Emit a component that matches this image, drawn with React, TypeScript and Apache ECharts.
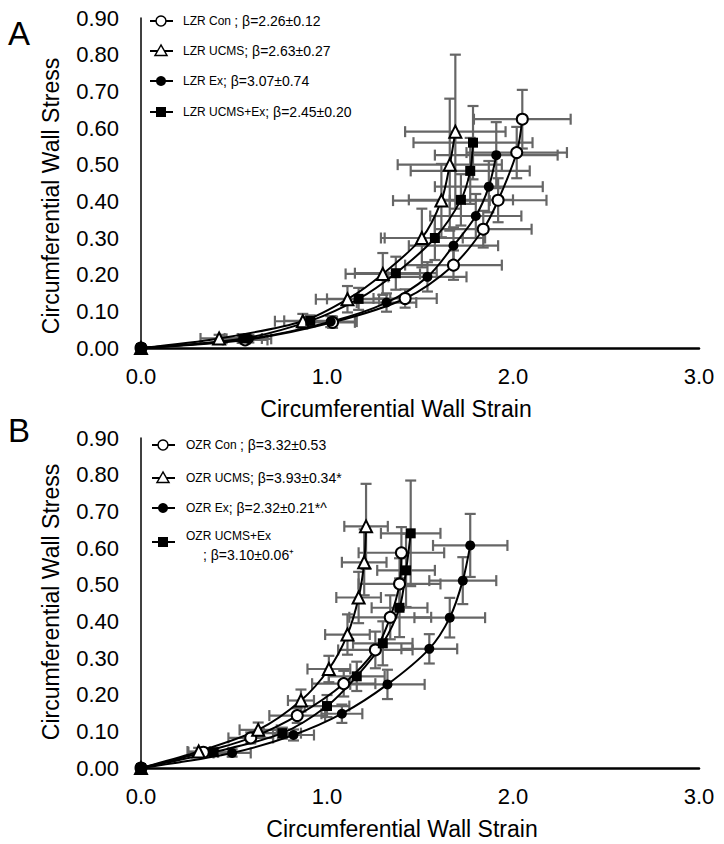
import React, { useEffect, useRef } from "react";
import * as echarts from "echarts";

// ---------- Panel A (LZR) ----------
const lzrConStrain = [0, 0.56, 1.03, 1.42, 1.68, 1.84, 1.92, 2.02, 2.05];
const lzrConStress = [0, 0.022, 0.07, 0.135, 0.226, 0.324, 0.403, 0.533, 0.624];
const lzrConStrainErr = [0, 0.12, 0.12, 0.17, 0.26, 0.26, 0.26, 0.27, 0.26];
const lzrConStressErr = [0, 0.01, 0.015, 0.025, 0.04, 0.05, 0.06, 0.07, 0.08];

const lzrUcmsStrain = [0, 0.42, 0.87, 1.11, 1.3, 1.51, 1.615, 1.66, 1.69];
const lzrUcmsStress = [0, 0.026, 0.073, 0.133, 0.202, 0.3, 0.402, 0.5, 0.59];
const lzrUcmsStrainErr = [0, 0.1, 0.15, 0.17, 0.2, 0.22, 0.26, 0.28, 0.27];
const lzrUcmsStressErr = [0, 0.01, 0.02, 0.036, 0.057, 0.08, 0.1, 0.18, 0.21];

const lzrExStrain = [0, 0.58, 1.02, 1.32, 1.54, 1.68, 1.8, 1.87, 1.91];
const lzrExStress = [0, 0.025, 0.072, 0.124, 0.194, 0.279, 0.36, 0.44, 0.526];
const lzrExStrainErr = [0, 0.12, 0.14, 0.16, 0.21, 0.24, 0.245, 0.29, 0.33];
const lzrExStressErr = [0, 0.01, 0.015, 0.025, 0.04, 0.05, 0.06, 0.07, 0.09];

const lzrUcmsExStrain = [0, 0.55, 0.91, 1.17, 1.37, 1.58, 1.72, 1.77, 1.785];
const lzrUcmsExStress = [0, 0.026, 0.074, 0.134, 0.204, 0.3, 0.404, 0.483, 0.56];
const lzrUcmsExStrainErr = [0, 0.1, 0.14, 0.17, 0.22, 0.27, 0.28, 0.32, 0.32];
const lzrUcmsExStressErr = [0, 0.008, 0.015, 0.03, 0.045, 0.06, 0.07, 0.09, 0.1];

// ---------- Panel B (OZR) ----------
const ozrConStrain = [0, 0.335, 0.59, 0.84, 1.09, 1.26, 1.34, 1.39, 1.4];
const ozrConStress = [0, 0.043, 0.082, 0.143, 0.23, 0.322, 0.411, 0.502, 0.587];
const ozrConStrainErr = [0, 0.08, 0.12, 0.15, 0.17, 0.2, 0.22, 0.22, 0.23];
const ozrConStressErr = [0, 0.01, 0.015, 0.02, 0.035, 0.05, 0.06, 0.07, 0.07];

const ozrUcmsStrain = [0, 0.31, 0.63, 0.86, 1.01, 1.11, 1.17, 1.2, 1.21];
const ozrUcmsStress = [0, 0.045, 0.104, 0.184, 0.27, 0.364, 0.465, 0.561, 0.659];
const ozrUcmsStrainErr = [0, 0.06, 0.1, 0.07, 0.115, 0.12, 0.12, 0.12, 0.117];
const ozrUcmsStressErr = [0, 0.01, 0.02, 0.03, 0.036, 0.055, 0.07, 0.09, 0.116];

const ozrExStrain = [0, 0.49, 0.82, 1.08, 1.325, 1.55, 1.66, 1.73, 1.77];
const ozrExStress = [0, 0.041, 0.09, 0.148, 0.228, 0.325, 0.41, 0.511, 0.607];
const ozrExStrainErr = [0, 0.1, 0.11, 0.11, 0.2, 0.15, 0.19, 0.18, 0.2];
const ozrExStressErr = [0, 0.01, 0.015, 0.025, 0.04, 0.04, 0.054, 0.064, 0.086];

const ozrUcmsExStrain = [0, 0.39, 0.76, 1.0, 1.16, 1.3, 1.39, 1.425, 1.45];
const ozrUcmsExStress = [0, 0.043, 0.095, 0.169, 0.25, 0.34, 0.437, 0.539, 0.64];
const ozrUcmsExStrainErr = [0, 0.08, 0.1, 0.12, 0.15, 0.16, 0.15, 0.155, 0.16];
const ozrUcmsExStressErr = [0, 0.01, 0.015, 0.03, 0.04, 0.06, 0.08, 0.1, 0.144];

// ---------- Legend texts ----------
const legendGroupsA = ["LZR Con ", "LZR UCMS", "LZR Ex", "LZR UCMS+Ex"];
const legendBetasA = ["; β=2.26±0.12", "; β=2.63±0.27", "; β=3.07±0.74", "; β=2.45±0.20"];
const legendGroupsB = ["OZR Con ", "OZR UCMS", "OZR Ex", "OZR UCMS+Ex"];
const legendBetasB = ["; β=3.32±0.53", "; β=3.93±0.34*", "; β=2.32±0.21*^", "; β=3.10±0.06⁺"];

const xAxisTitle = "Circumferential Wall Strain";
const yAxisTitle = "Circumferential Wall Stress";
const panelLetters = ["A", "B"];

const FONT = "'Liberation Sans', Arial, Helvetica, sans-serif";

type Marker = "openCircle" | "openTriangle" | "filledCircle" | "filledSquare";
const markers: Marker[] = ["openCircle", "openTriangle", "filledCircle", "filledSquare"];

const markerSymbol: Record<Marker, { symbol: string; size: number; filled: boolean }> = {
  openCircle: { symbol: "circle", size: 11, filled: false },
  openTriangle: { symbol: "triangle", size: 12, filled: false },
  filledCircle: { symbol: "circle", size: 10, filled: true },
  filledSquare: { symbol: "rect", size: 10, filled: true },
};

function pairs(a: number[], b: number[]) {
  return a.map((v, i) => [v, b[i]]);
}
function quads(a: number[], b: number[], c: number[], d: number[]) {
  return a.map((v, i) => [v, b[i], c[i], d[i]]).filter((q) => q[2] > 0 || q[3] > 0);
}

const errorRender = (params: any, api: any) => {
  const x = api.value(0);
  const y = api.value(1);
  const ex = api.value(2);
  const ey = api.value(3);
  const l = api.coord([x - ex, y]);
  const r = api.coord([x + ex, y]);
  const t = api.coord([x, y + ey]);
  const b = api.coord([x, y - ey]);
  const c = 5.5;
  const style = { stroke: "#666666", lineWidth: 2.2, fill: null };
  const ln = (x1: number, y1: number, x2: number, y2: number) => ({
    type: "line",
    shape: { x1, y1, x2, y2 },
    style,
  });
  return {
    type: "group",
    children: [
      ln(l[0], l[1], r[0], r[1]),
      ln(l[0], l[1] - c, l[0], l[1] + c),
      ln(r[0], r[1] - c, r[0], r[1] + c),
      ln(t[0], t[1], b[0], b[1]),
      ln(t[0] - c, t[1], t[0] + c, t[1]),
      ln(b[0] - c, b[1], b[0] + c, b[1]),
    ],
  };
};

function buildSeries(
  idx: number,
  sets: { sx: number[]; sy: number[]; ex: number[]; ey: number[]; marker: Marker; name: string }[]
) {
  const out: any[] = [];
  sets.forEach((s) => {
    out.push({
      type: "custom",
      name: s.name + " err",
      xAxisIndex: idx,
      yAxisIndex: idx,
      renderItem: errorRender,
      data: quads(s.sx, s.sy, s.ex, s.ey),
      encode: { x: 0, y: 1 },
      z: 1,
      silent: true,
    });
  });
  sets.forEach((s) => {
    const m = markerSymbol[s.marker];
    out.push({
      type: "line",
      name: s.name,
      xAxisIndex: idx,
      yAxisIndex: idx,
      data: pairs(s.sx, s.sy),
      smooth: 0.3,
      symbol: m.symbol,
      symbolSize: m.size,
      showAllSymbol: true,
      lineStyle: { color: "#000", width: 2 },
      itemStyle: {
        color: m.filled ? "#000" : "#fff",
        borderColor: "#000",
        borderWidth: m.filled ? 0 : 2,
      },
      z: 3,
    });
  });
  return out;
}

function legendMarker(marker: Marker, cx: number, cy: number) {
  const stroke = { stroke: "#000", lineWidth: 1.5 };
  switch (marker) {
    case "openCircle":
      return { type: "circle", shape: { cx, cy, r: 5 }, style: { fill: "#fff", ...stroke }, z: 11 };
    case "openTriangle":
      return {
        type: "polygon",
        shape: { points: [[cx, cy - 6], [cx - 6, cy + 4.5], [cx + 6, cy + 4.5]] },
        style: { fill: "#fff", ...stroke },
        z: 11,
      };
    case "filledCircle":
      return { type: "circle", shape: { cx, cy, r: 5 }, style: { fill: "#000" }, z: 11 };
    default:
      return { type: "rect", shape: { x: cx - 5, y: cy - 5, width: 10, height: 10 }, style: { fill: "#000" }, z: 11 };
  }
}

function legendGraphics(
  groups: string[],
  betas: string[],
  rows: number[],
  symX: number,
  textX: number,
  splitLast: boolean
) {
  const els: any[] = [];
  groups.forEach((g, i) => {
    const y = rows[i];
    els.push({
      type: "line",
      shape: { x1: symX - 11, y1: y, x2: symX + 12, y2: y },
      style: { stroke: "#000", lineWidth: 2 },
      z: 10,
    });
    els.push(legendMarker(markers[i], symX, y));
    if (splitLast && i === groups.length - 1) {
      els.push({
        type: "text",
        x: textX,
        y: y - 6,
        style: { text: g, font: `12px ${FONT}`, fill: "#000", verticalAlign: "middle", align: "left" },
      });
      els.push({
        type: "text",
        x: textX + 17,
        y: y + 13,
        style: { text: betas[i], font: `14px ${FONT}`, fill: "#000", verticalAlign: "middle", align: "left" },
      });
    } else {
      els.push({
        type: "text",
        x: textX,
        y,
        style: {
          text: `{a|${g}}{b|${betas[i]}}`,
          rich: {
            a: { fontSize: 12, fontFamily: FONT, fill: "#000" },
            b: { fontSize: 14, fontFamily: FONT, fill: "#000" },
          },
          fill: "#000",
          verticalAlign: "middle",
          align: "left",
        },
      });
    }
  });
  return els;
}

function axisPair(idx: number) {
  return {
    x: {
      type: "value",
      gridIndex: idx,
      min: 0,
      max: 3,
      interval: 1,
      axisLine: { show: true, onZero: false, lineStyle: { color: "#000", width: 2.5 } },
      axisTick: { show: false },
      splitLine: { show: false },
      axisLabel: {
        color: "#000",
        fontSize: 22,
        fontFamily: FONT,
        margin: 17,
        formatter: (v: number) => v.toFixed(1),
      },
    },
    y: {
      type: "value",
      gridIndex: idx,
      min: 0,
      max: 0.9,
      interval: 0.1,
      axisLine: { show: true, onZero: false, lineStyle: { color: "#000", width: 1.5 } },
      axisTick: { show: false },
      splitLine: { show: false },
      axisLabel: {
        color: "#000",
        fontSize: 22,
        fontFamily: FONT,
        margin: 22,
        formatter: (v: number) => v.toFixed(2),
      },
    },
  };
}

export default function App() {
  const ref = useRef<HTMLDivElement>(null);
  useEffect(() => {
    if (!ref.current) return;
    const chart = echarts.init(ref.current, undefined, { renderer: "svg" });
    const a = axisPair(0);
    const b = axisPair(1);

    const seriesA = buildSeries(0, [
      { name: legendGroupsA[0], sx: lzrConStrain, sy: lzrConStress, ex: lzrConStrainErr, ey: lzrConStressErr, marker: "openCircle" },
      { name: legendGroupsA[1], sx: lzrUcmsStrain, sy: lzrUcmsStress, ex: lzrUcmsStrainErr, ey: lzrUcmsStressErr, marker: "openTriangle" },
      { name: legendGroupsA[2], sx: lzrExStrain, sy: lzrExStress, ex: lzrExStrainErr, ey: lzrExStressErr, marker: "filledCircle" },
      { name: legendGroupsA[3], sx: lzrUcmsExStrain, sy: lzrUcmsExStress, ex: lzrUcmsExStrainErr, ey: lzrUcmsExStressErr, marker: "filledSquare" },
    ]);
    const seriesB = buildSeries(1, [
      { name: legendGroupsB[0], sx: ozrConStrain, sy: ozrConStress, ex: ozrConStrainErr, ey: ozrConStressErr, marker: "openCircle" },
      { name: legendGroupsB[1], sx: ozrUcmsStrain, sy: ozrUcmsStress, ex: ozrUcmsStrainErr, ey: ozrUcmsStressErr, marker: "openTriangle" },
      { name: legendGroupsB[2], sx: ozrExStrain, sy: ozrExStress, ex: ozrExStrainErr, ey: ozrExStressErr, marker: "filledCircle" },
      { name: legendGroupsB[3], sx: ozrUcmsExStrain, sy: ozrUcmsExStress, ex: ozrUcmsExStrainErr, ey: ozrUcmsExStressErr, marker: "filledSquare" },
    ]);

    const titleStyle = (text: string) => ({
      text,
      font: `23px ${FONT}`,
      fill: "#000",
      align: "center",
      verticalAlign: "middle",
    });

    const graphics: any[] = [
      { type: "text", x: 8, y: 33, style: { text: panelLetters[0], font: `33px ${FONT}`, fill: "#000", align: "left", verticalAlign: "middle" } },
      { type: "text", x: 8, y: 430, style: { text: panelLetters[1], font: `33px ${FONT}`, fill: "#000", align: "left", verticalAlign: "middle" } },
      { type: "text", x: 396, y: 409, style: titleStyle(xAxisTitle) },
      { type: "text", x: 402, y: 829, style: titleStyle(xAxisTitle) },
      { type: "text", x: 51, y: 196, rotation: Math.PI / 2, style: titleStyle(yAxisTitle) },
      { type: "text", x: 51, y: 602, rotation: Math.PI / 2, style: titleStyle(yAxisTitle) },
      ...legendGraphics(legendGroupsA, legendBetasA, [21, 51, 81, 112], 161, 183, false),
      ...legendGraphics(legendGroupsB, legendBetasB, [445, 478, 508, 542], 163, 186, true),
    ];

    chart.setOption({
      animation: false,
      backgroundColor: "#fff",
      textStyle: { fontFamily: FONT },
      grid: [
        { left: 141, top: 18, width: 558, height: 330, containLabel: false },
        { left: 141, top: 438, width: 558, height: 330, containLabel: false },
      ],
      xAxis: [a.x, b.x],
      yAxis: [a.y, b.y],
      series: [...seriesA, ...seriesB],
      graphic: graphics,
    });
    return () => chart.dispose();
  }, []);
  return (
    <div
      ref={ref}
      style={{ position: "fixed", left: 0, top: 0, width: 724, height: 844, background: "#fff" }}
    />
  );
}
